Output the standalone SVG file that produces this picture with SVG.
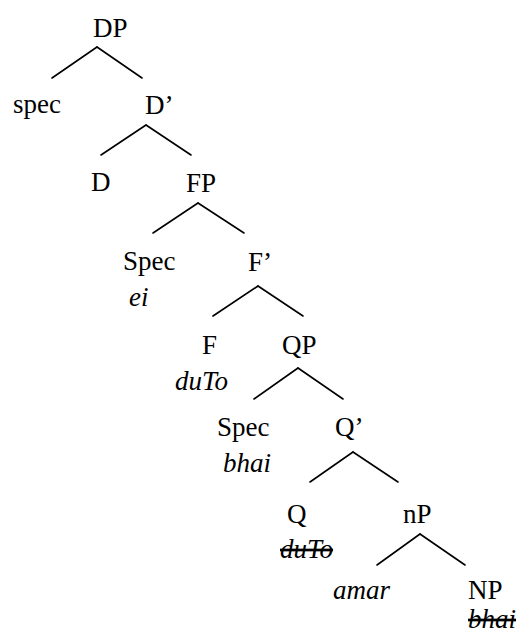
<svg xmlns="http://www.w3.org/2000/svg" width="527" height="641" viewBox="0 0 527 641">
<style>
text{font-family:"Times New Roman","Liberation Serif",Tinos,"Noto Serif","DejaVu Serif",FreeSerif,Times,serif;font-size:27px;fill:#000}
.i{font-style:italic}
.s{text-decoration:line-through}
line{stroke:#000;stroke-width:1.6;stroke-linecap:round}
</style>
<rect width="527" height="641" fill="#fff"/>
<g id="connectors">
<line x1="97" y1="47" x2="52" y2="78"/><line x1="97" y1="47" x2="142" y2="78"/>
<line x1="146" y1="125" x2="101" y2="155"/><line x1="146" y1="125" x2="191" y2="155"/>
<line x1="198" y1="203" x2="153" y2="233"/><line x1="198" y1="203" x2="244" y2="233"/>
<line x1="258" y1="286" x2="213" y2="316"/><line x1="258" y1="286" x2="303" y2="316"/>
<line x1="298" y1="368" x2="254" y2="399"/><line x1="298" y1="368" x2="343" y2="399"/>
<line x1="353" y1="452" x2="310" y2="482"/><line x1="353" y1="452" x2="398" y2="482"/>
<line x1="420" y1="534" x2="377" y2="565"/><line x1="420" y1="534" x2="465" y2="565"/>
</g>
<g id="DP"><text x="93" y="37">DP</text></g>
<g id="spec"><text x="13" y="113">spec</text></g>
<g id="Dbar"><text x="145" y="114">D’</text></g>
<g id="D"><text x="91" y="191">D</text></g>
<g id="FP"><text x="186" y="192">FP</text></g>
<g id="SpecF"><text x="123" y="270">Spec</text><text class="i" x="129" y="306">ei</text></g>
<g id="Fbar"><text x="248" y="271">F’</text></g>
<g id="F"><text x="202" y="354">F</text><text class="i" x="175" y="390">duTo</text></g>
<g id="QP"><text x="282" y="354">QP</text></g>
<g id="SpecQ"><text x="217" y="436">Spec</text><text class="i" x="223" y="472">bhai</text></g>
<g id="Qbar"><text x="335" y="436">Q’</text></g>
<g id="Q"><text x="287" y="523">Q</text><text class="i s" x="280" y="558">duTo</text></g>
<g id="nP"><text x="403" y="523">nP</text></g>
<g id="amar"><text class="i" x="333" y="599">amar</text></g>
<g id="NP"><text x="468" y="599">NP</text><text class="i s" x="468" y="628">bhai</text></g>
</svg>
